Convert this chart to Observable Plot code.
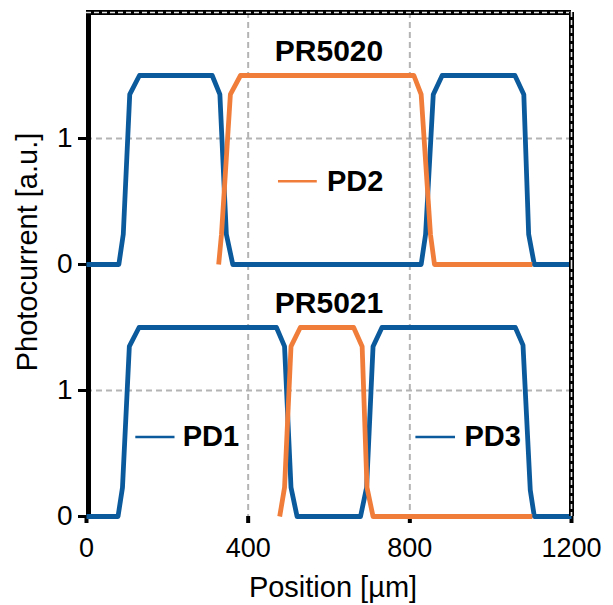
<!DOCTYPE html>
<html>
<head>
<meta charset="utf-8">
<script src="https://cdn.jsdelivr.net/npm/d3@7"></script>
<script src="https://cdn.jsdelivr.net/npm/@observablehq/plot@0.6"></script>
<style>
  html, body { margin: 0; padding: 0; background: #fff; }
  #chart { width: 613px; height: 605px; }
</style>
</head>
<body>
<div id="chart"></div>
<script>
// ---- Data ----
const panels = ["PR5020", "PR5021"];
const seriesNames = ["PD1", "PD2", "PD3"];
const seriesColors = ["#0b5a9c", "#f07d3a", "#0b5a9c"];
const xTicks = [0, 400, 800, 1200];
const yTicks = [0, 1];
const gridX = [400, 800];
const gridY = [1];

// Panel PR5020
const pr5020_pd1_x = [0, 80, 91, 107, 131, 311, 330, 346, 362, 600];
const pr5020_pd1_y = [0, 0, 0.24, 1.35, 1.5, 1.5, 1.35, 0.24, 0, 0];
const pr5020_pd2_x = [327, 334, 356, 381, 810, 828, 851, 861, 1103];
const pr5020_pd2_y = [0, 0.24, 1.35, 1.5, 1.5, 1.35, 0.24, 0, 0];
const pr5020_pd3_x = [600, 828, 839, 858, 880, 1060, 1082, 1094, 1108, 1200];
const pr5020_pd3_y = [0, 0, 0.24, 1.35, 1.5, 1.5, 1.35, 0.24, 0, 0];

// Panel PR5021
const pr5021_pd1_x = [0, 78, 89, 106, 130, 470, 490, 506, 521, 600];
const pr5021_pd1_y = [0, 0, 0.23, 1.35, 1.5, 1.5, 1.35, 0.23, 0, 0];
const pr5021_pd2_x = [478, 490, 506, 529, 661, 682, 694, 709, 1103];
const pr5021_pd2_y = [0, 0.23, 1.35, 1.5, 1.5, 1.35, 0.23, 0, 0];
const pr5021_pd3_x = [600, 678, 693, 709, 731, 1061, 1080, 1098, 1108, 1200];
const pr5021_pd3_y = [0, 0, 0.23, 1.35, 1.5, 1.5, 1.36, 0.21, 0, 0];

// Panel titles (positioned in data units)
const titleX = [600, 600];
const titleY = [1.69, 1.69];

// Legend entries: panel, series, line start/end, y, text start (data units)
const legendPanel = ["PR5020", "PR5021", "PR5021"];
const legendSeries = ["PD2", "PD1", "PD3"];
const legendX1 = [475, 122, 815];
const legendX2 = [571, 219, 913];
const legendY = [0.66, 0.63, 0.63];
const legendTextX = [595, 238, 935];

const xLabel = "Position [\u00b5m]";
const yLabel = "Photocurrent [a.u.]";

// ---- Build tables ----
const rows = [];
function addSeries(panel, series, xs, ys) {
  xs.forEach((x, i) => rows.push({panel, series, x, y: ys[i]}));
}
addSeries("PR5020", "PD1", pr5020_pd1_x, pr5020_pd1_y);
addSeries("PR5020", "PD2", pr5020_pd2_x, pr5020_pd2_y);
addSeries("PR5020", "PD3", pr5020_pd3_x, pr5020_pd3_y);
addSeries("PR5021", "PD1", pr5021_pd1_x, pr5021_pd1_y);
addSeries("PR5021", "PD2", pr5021_pd2_x, pr5021_pd2_y);
addSeries("PR5021", "PD3", pr5021_pd3_x, pr5021_pd3_y);

const titles = panels.map((p, i) => ({panel: p, x: titleX[i], y: titleY[i], text: p}));
const legend = legendPanel.map((p, i) => ({
  panel: p, series: legendSeries[i], x1: legendX1[i], x2: legendX2[i], y: legendY[i], tx: legendTextX[i]
}));
const topBorder = [{panel: panels[0], y: 2}];
const yTickRows = panels.flatMap(p => yTicks.map(t => ({panel: p, y: t})));
const xTickRows = xTicks.map(t => ({panel: panels[1], x: t}));

const blueRows = rows.filter(d => d.series !== "PD2");
const orangeRows = rows.filter(d => d.series === "PD2");

const FONT = "'Liberation Sans', Arial, sans-serif";
const gridStyle = {stroke: "#b4b4b4", strokeWidth: 2, strokeDasharray: "6,4"};
const borderDash = {stroke: "#e4e4e4", strokeWidth: 1.6, strokeDasharray: "5,3"};
const fmt = d => String(d);

const chart = Plot.plot({
  width: 613,
  height: 605,
  marginTop: 11,
  marginBottom: 89,
  marginLeft: 86,
  marginRight: 42,
  style: {fontFamily: FONT, background: "#fff", color: "#000"},
  x: {domain: [0, 1200]},
  y: {domain: [0, 2]},
  fy: {domain: panels, padding: 0, axis: null},
  color: {domain: seriesNames, range: seriesColors},
  marks: [
    Plot.ruleX(gridX, {...gridStyle}),
    Plot.ruleY(gridY, {...gridStyle}),
    Plot.ruleX([0], {stroke: "#000", strokeWidth: 5, dx: 2}),
    // tick labels
    Plot.axisY({ticks: yTicks, tickSize: 0, tickPadding: 14, tickFormat: fmt, fontSize: 28, label: null}),
    Plot.axisX({ticks: xTicks, tickSize: 0, tickPadding: 21, tickFormat: fmt, fontSize: 27, label: null}),
    // tick marks
    Plot.ruleY(yTickRows, {y: "y", fy: "panel", x1: 0, x2: 0, insetLeft: -8, stroke: "#000", strokeWidth: 3}),
    Plot.ruleX(xTickRows, {x: "x", fy: "panel", y1: 0, y2: 0, insetBottom: -7, stroke: "#000", strokeWidth: 4}),
    Plot.line(blueRows, {x: "x", y: "y", z: "series", fy: "panel", stroke: "series", strokeWidth: 4.8, strokeLinejoin: "round", strokeLinecap: "butt"}),
    Plot.line(orangeRows, {x: "x", y: "y", z: "series", fy: "panel", stroke: "series", strokeWidth: 4.8, strokeLinejoin: "round", strokeLinecap: "butt"}),
    // top and right borders
    Plot.ruleY(topBorder, {y: "y", fy: "panel", stroke: "#000", strokeWidth: 5}),
    Plot.ruleY(topBorder, {y: "y", fy: "panel", ...borderDash}),
    Plot.ruleX([1200], {stroke: "#000", strokeWidth: 5}),
    Plot.ruleX([1200], {...borderDash}),
    // panel titles
    Plot.text(titles, {x: "x", y: "y", fy: "panel", text: "text", fontSize: 30, fontWeight: "bold", fill: "#000", lineAnchor: "middle"}),
    // legends
    Plot.ruleY(legend, {x1: "x1", x2: "x2", y: "y", fy: "panel", stroke: "series", strokeWidth: 2.5}),
    Plot.text(legend, {x: "tx", y: "y", fy: "panel", text: "series", textAnchor: "start", fontSize: 29, fontWeight: "bold", fill: "#000", lineAnchor: "middle"})
  ]
});

const svg = d3.select(chart);
svg.append("text")
  .attr("transform", "translate(37,252) rotate(-90)")
  .attr("text-anchor", "middle")
  .attr("font-family", FONT)
  .attr("font-size", 29)
  .attr("fill", "#000")
  .text(yLabel);
svg.append("text")
  .attr("x", 333)
  .attr("y", 597)
  .attr("text-anchor", "middle")
  .attr("font-family", FONT)
  .attr("font-size", 29)
  .attr("fill", "#000")
  .text(xLabel);

document.getElementById("chart").appendChild(chart);
</script>
</body>
</html>
